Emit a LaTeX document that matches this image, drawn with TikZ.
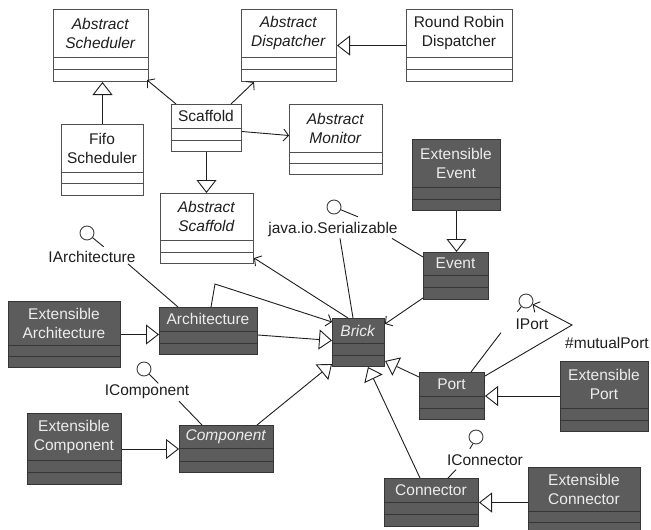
\documentclass[tikz,border=0pt]{standalone}
\usepackage{fontspec}
\setmainfont{Liberation Sans}
\usetikzlibrary{arrows.meta}

\definecolor{darkfill}{HTML}{5C5C5C}
\definecolor{darkedge}{HTML}{363636}
\definecolor{lightedge}{HTML}{505050}
\definecolor{ink}{HTML}{1E1E1E}

\tikzset{
  lightbox/.style={draw=lightedge, fill=white, line width=1pt},
  darkbox/.style={draw=darkedge, fill=darkfill, line width=1pt},
  lightname/.style={text=ink},
  darkname/.style={text=white!93!black},
  lightsep/.style={draw=lightedge, line width=1pt},
  darksep/.style={draw=darkedge, line width=1pt},
  gen/.style={draw=ink, line width=0.9pt, -{Triangle[length=13pt,width=20pt,fill=white,line width=0.9pt]}},
  assoc/.style={draw=ink, line width=0.9pt, -{Straight Barb[length=5pt,width=12pt]}},
  link/.style={draw=ink, line width=0.9pt},
  lolli/.style={circle, draw=ink!85, line width=0.9pt, minimum size=14pt, inner sep=0pt, fill=white},
  iface/.style={text=ink, inner sep=1pt},
}

% \umlclass{name}{light|dark}{x1}{y1}{x2}{y2}{sep1}{sep2}{title}
\newcommand{\umlclass}[9]{%
  \node[#2box, anchor=north west, inner sep=0pt,
        minimum width={(#5-#3)*1pt}, minimum height={(#6-#4)*1pt}] (#1) at (#3,#4) {};
  \draw[#2sep] (#3,#7) -- (#5,#7) (#3,#8) -- (#5,#8);
  \node[#2name, align=center, inner sep=0pt] (#1-name) at ({(#3+#5)/2},{(#4+#7)/2}) {#9};
}

\begin{document}
\begin{tikzpicture}[x=1pt, y=-1pt, font=\fontsize{15.5}{19}\selectfont]
\useasboundingbox (0,0) rectangle (651,530);
\clip (0,0) rectangle (651,530);

% framework classes
\umlclass{absched}{light}{53}{9}{148}{81}{57}{69}{\textit{Abstract}\\\textit{Scheduler}}
\umlclass{absdisp}{light}{241}{9}{336}{81}{57}{69}{\textit{Abstract}\\\textit{Dispatcher}}
\umlclass{rrdisp}{light}{406}{9}{512}{81}{57}{69}{Round Robin\\Dispatcher}
\umlclass{scaffold}{light}{171}{104}{241}{151}{128}{140}{Scaffold}
\umlclass{fifo}{light}{61}{124}{143}{195}{172}{183}{Fifo\\Scheduler}
\umlclass{absmon}{light}{289}{104}{382}{174}{152}{163}{\textit{Abstract}\\\textit{Monitor}}
\umlclass{absscaf}{light}{160}{193}{253}{263}{240}{252}{\textit{Abstract}\\\textit{Scaffold}}

% architecture classes
\umlclass{extevent}{dark}{412}{139}{500}{210}{187}{199}{Extensible\\Event}
\umlclass{event}{dark}{423}{252}{488}{299}{275}{287}{Event}
\umlclass{brick}{dark}{332}{318}{384}{366}{343}{355}{\textit{Brick}}
\umlclass{port}{dark}{419}{372}{484}{419}{396}{408}{Port}
\umlclass{extport}{dark}{560}{361}{648}{431}{408}{420}{Extensible\\Port}
\umlclass{arch}{dark}{159}{307}{257}{354}{331}{343}{Architecture}
\umlclass{extarch}{dark}{8}{301}{120}{367}{345}{356}{Extensible\\Architecture}
\umlclass{comp}{dark}{179}{425}{273}{472}{448}{461}{\textit{Component}}
\umlclass{extcomp}{dark}{27}{413}{121}{484}{460}{472}{Extensible\\Component}
\umlclass{conn}{dark}{384}{478}{478}{526}{502}{514}{Connector}
\umlclass{extconn}{dark}{528}{467}{640}{540}{511}{522}{Extensible\\Connector}

% generalizations
\draw[gen] (fifo.north) -- (fifo.north |- absched.south);
\draw[gen] (rrdisp.west) -- (absdisp.east);
\draw[gen] (scaffold.south) -- (scaffold.south |- absscaf.north);
\draw[gen] (extevent.south) -- (extevent.south |- event.north);
\draw[gen] ([yshift=-4pt]arch.east) -- ([yshift=2pt]brick.west);
\draw[gen] (extarch.east) -- (extarch.east -| arch.west);
\draw[gen] ([xshift=-17pt]comp.north east) -- ([yshift=3pt]brick.south west);
\draw[gen] ([yshift=-5pt]port.north west) -- ([yshift=6pt]brick.south east);
\draw[gen] ([xshift=36pt]conn.north west) -- ([xshift=-17pt]brick.south east);
\draw[gen] (extport.west |- port.east) -- (port.east);
\draw[gen] (extcomp.east |- comp.west) -- (comp.west);
\draw[gen] (extconn.west |- conn.east) -- (conn.east);

% associations
\draw[assoc] ([xshift=5pt]scaffold.north west) -- ([xshift=-2pt,yshift=2pt]absched.south east);
\draw[assoc] ([xshift=-11pt]scaffold.north east) -- ([xshift=13pt]absdisp.south west);
\draw[assoc] ([yshift=-3.5pt]scaffold.east) -- ([yshift=4pt]absmon.west);
\draw[assoc] ([yshift=2pt]event.south west) -- ([yshift=-6pt]brick.north east);
\draw[assoc] ([xshift=16pt]brick.north west) -- ([yshift=6pt]absscaf.south east);
\coordinate (arch-bend) at (215,284);
\draw[assoc] ([xshift=52pt]arch.north west) -- (arch-bend) -- ([yshift=-4pt]brick.north west);

% provided interfaces
\node[lolli] (iarch-c) at (87,233) {};
\draw[link] (iarch-c.-40) -- ++(11,9);
\node[iface] (iarch-l) at (92,257) {IArchitecture};
\draw[link] ([xshift=36pt]iarch-l.south) -- ([xshift=19pt]arch.north west);

\node[lolli] (ser-c) at (334,207) {};
\draw[link] (ser-c.-22) -- ++(17,7);
\node[iface] (ser-l) at (333,229) {java.io.Serializable};
\draw[link] ([xshift=7pt,yshift=-1pt]ser-l.south) -- ([xshift=21pt]brick.north west);
\draw[link] ([xshift=59pt,yshift=-1pt]ser-l.south) -- ([yshift=-5pt]event.north west);

\node[lolli] (icomp-c) at (144,369) {};
\draw[link] (icomp-c.-45) -- ++(9,9);
\node[iface] (icomp-l) at (147,392) {IComponent};
\draw[link] ([xshift=32pt,yshift=-1pt]icomp-l.south) -- ([xshift=23pt]comp.north west);

\node[lolli] (iport-c) at (526,301) {};
\draw[link] (iport-c.-130) -- ++(-4,5);
\node[iface] (iport-l) at (532,324) {IPort};
\draw[link] ([xshift=-31pt,yshift=-2pt]iport-l.south) -- ([xshift=52pt]port.north west);
\coordinate (mp-bend) at (572,325);
\draw[assoc] ([yshift=-4pt]port.north east) -- (mp-bend) -- (iport-c);
\node[iface] (mp-l) at (607,343) {\#mutualPort};

\node[lolli] (iconn-c) at (476,437) {};
\draw[link] (iconn-c.-115) -- ++(-3,5);
\node[iface] (iconn-l) at (485,460) {IConnector};
\draw[link] ([xshift=-29pt,yshift=-3pt]iconn-l.south) -- ([xshift=64pt]conn.north west);
\end{tikzpicture}
\end{document}
